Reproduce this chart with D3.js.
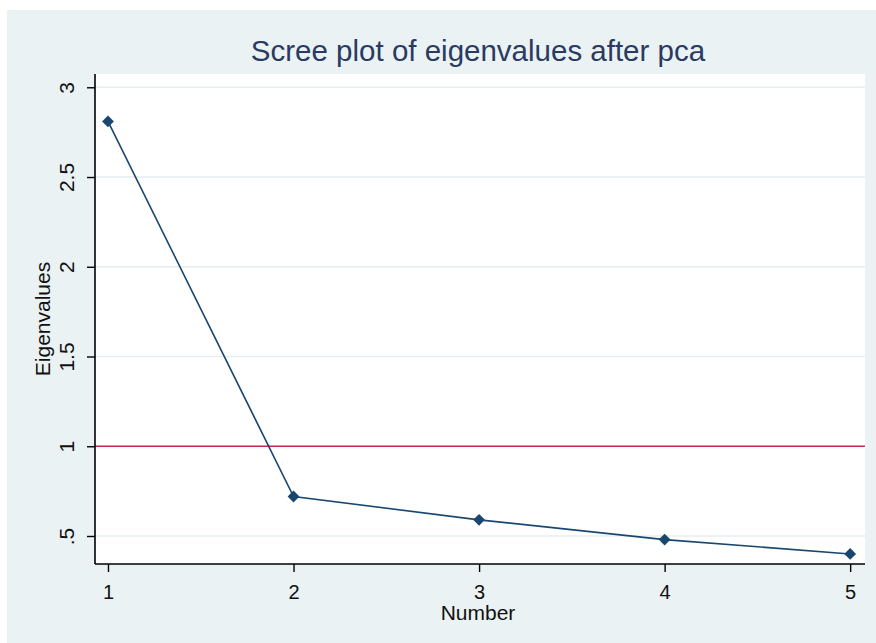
<!DOCTYPE html>
<html>
<head>
<meta charset="utf-8">
<script src="https://cdn.jsdelivr.net/npm/d3@7/dist/d3.min.js"></script>
<style>
  html, body { margin: 0; padding: 0; background: #ffffff; }
  svg { display: block; }
  text { font-family: "Liberation Sans", Arial, sans-serif; }
</style>
</head>
<body>
<script>
// Component numbers and their eigenvalues
const components = [1, 2, 3, 4, 5];
const eigenvalues = [2.81, 0.72, 0.59, 0.48, 0.40];

// Axis ticks
const yTickValues = [0.5, 1, 1.5, 2, 2.5, 3];
const yTickLabels = [".5", "1", "1.5", "2", "2.5", "3"];
const xTickValues = [1, 2, 3, 4, 5];
const xTickLabels = ["1", "2", "3", "4", "5"];

// Kaiser criterion reference line
const referenceValue = 1;

const title = "Scree plot of eigenvalues after pca";
const yTitle = "Eigenvalues";
const xTitle = "Number";

const W = 876, H = 643;
const plot = { left: 95, right: 865, top: 74, bottom: 564 };

const svg = d3.select("body").append("svg")
  .attr("width", W).attr("height", H);

// Outer graph region
svg.append("rect")
  .attr("x", 7).attr("y", 10)
  .attr("width", W - 7).attr("height", H - 10)
  .attr("fill", "#eaf2f3");

// Plot region
svg.append("rect")
  .attr("x", plot.left).attr("y", plot.top)
  .attr("width", plot.right - plot.left).attr("height", plot.bottom - plot.top)
  .attr("fill", "#ffffff");

const x = d3.scaleLinear().domain([0.93, 5.08]).range([plot.left, plot.right]);
const y = d3.scaleLinear().domain([0.344, 3.074]).range([plot.bottom, plot.top]);

// Horizontal grid lines
svg.append("g")
  .selectAll("line")
  .data(yTickValues)
  .join("line")
  .attr("x1", plot.left).attr("x2", plot.right)
  .attr("y1", d => y(d)).attr("y2", d => y(d))
  .attr("stroke", "#e6eef1")
  .attr("stroke-width", 1.6);

// Reference line at eigenvalue = 1
svg.append("line")
  .attr("x1", plot.left).attr("x2", plot.right)
  .attr("y1", y(referenceValue)).attr("y2", y(referenceValue))
  .attr("stroke", "#d3264f")
  .attr("stroke-width", 1.6);

// Y axis
const yAxis = d3.axisLeft(y)
  .tickValues(yTickValues)
  .tickFormat((d, i) => yTickLabels[i])
  .tickSize(8)
  .tickSizeOuter(0);
const gy = svg.append("g")
  .attr("transform", `translate(${plot.left},0)`)
  .call(yAxis);
gy.select(".domain").attr("stroke", "#000").attr("stroke-width", 1.6)
  .attr("d", `M0,${plot.top}V${plot.bottom}`);
gy.selectAll(".tick line").attr("stroke", "#000").attr("stroke-width", 1.4);
gy.selectAll(".tick text")
  .attr("font-size", 21)
  .attr("fill", "#111")
  .attr("text-anchor", "middle")
  .attr("dy", 0)
  .attr("x", 0)
  .attr("transform", "translate(-21,0) rotate(-90)");

// X axis
const xAxis = d3.axisBottom(x)
  .tickValues(xTickValues)
  .tickFormat((d, i) => xTickLabels[i])
  .tickSize(8)
  .tickSizeOuter(0);
const gx = svg.append("g")
  .attr("transform", `translate(0,${plot.bottom})`)
  .call(xAxis);
gx.select(".domain").attr("stroke", "#000").attr("stroke-width", 1.6)
  .attr("d", `M${plot.left},0H${plot.right}`);
gx.selectAll(".tick line").attr("stroke", "#000").attr("stroke-width", 1.4);
gx.selectAll(".tick text")
  .attr("font-size", 20)
  .attr("fill", "#111")
  .attr("dy", 0)
  .attr("y", 35);

// Scree line
const data = components.map((c, i) => ({ c, v: eigenvalues[i] }));
svg.append("path")
  .datum(data)
  .attr("fill", "none")
  .attr("stroke", "#1a476f")
  .attr("stroke-width", 1.6)
  .attr("d", d3.line().x(d => x(d.c)).y(d => y(d.v)));

// Diamond markers
svg.append("g")
  .selectAll("path")
  .data(data)
  .join("path")
  .attr("d", d3.symbol(d3.symbolSquare, 70))
  .attr("transform", d => `translate(${x(d.c)},${y(d.v)}) rotate(45)`)
  .attr("fill", "#1a476f");

// Titles
svg.append("text")
  .attr("x", 478).attr("y", 61)
  .attr("text-anchor", "middle")
  .attr("font-size", 29.5)
  .attr("fill", "#2a3a62")
  .text(title);

svg.append("text")
  .attr("transform", `translate(50,319) rotate(-90)`)
  .attr("text-anchor", "middle")
  .attr("font-size", 21)
  .attr("fill", "#111")
  .text(yTitle);

svg.append("text")
  .attr("x", 478).attr("y", 620)
  .attr("text-anchor", "middle")
  .attr("font-size", 21)
  .attr("fill", "#111")
  .text(xTitle);
</script>
</body>
</html>
